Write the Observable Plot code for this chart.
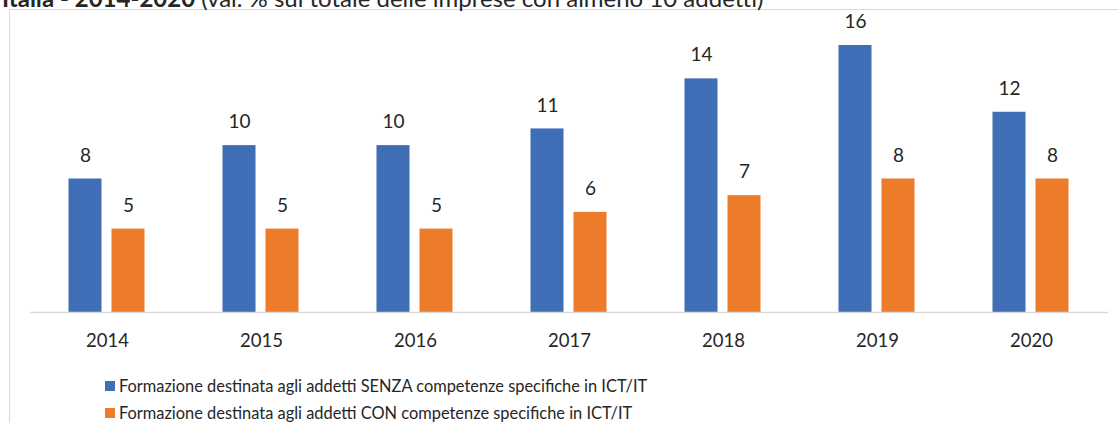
<!DOCTYPE html>
<html>
<head>
<meta charset="utf-8">
<script src="https://cdn.jsdelivr.net/npm/d3@7"></script>
<script src="https://cdn.jsdelivr.net/npm/@observablehq/plot@0.6"></script>
<style>
  html, body { margin: 0; padding: 0; background: #fff; }
  #wrap { position: relative; width: 1118px; height: 423px; overflow: hidden; font-family: Lato, "Open Sans", sans-serif; color: #262626; }
  #title { position: absolute; left: 2px; top: -16px; font-size: 24px; line-height: 28px; white-space: nowrap; color: #262626; }
  #frame { position: absolute; left: 9px; top: 9px; width: 2000px; height: 1000px; border-top: 1px solid #d9d9d9; border-left: 1px solid #d9d9d9; }
  #chart { position: absolute; left: 0; top: 0; }
  #legend { position: absolute; left: 105px; top: 372px; font-size: 16.4px; line-height: 27px; }
  .item { display: flex; align-items: center; white-space: nowrap; }
  .sw { width: 10px; height: 10px; margin-right: 4px; display: inline-block; }
</style>
</head>
<body>
<div id="wrap">
  <div id="frame"></div>
  <div id="title"><b>Italia - 2014-2020</b> (val. % sul totale delle imprese con almeno 10 addetti)</div>
  <div id="chart"></div>
  <div id="legend"></div>
</div>
<script>
const years = ["2014", "2015", "2016", "2017", "2018", "2019", "2020"];
const seriesNames = [
  "Formazione destinata agli addetti SENZA competenze specifiche in ICT/IT",
  "Formazione destinata agli addetti CON competenze specifiche in ICT/IT"
];
const senza = [8, 10, 10, 11, 14, 16, 12];
const con = [5, 5, 5, 6, 7, 8, 8];
const colors = ["#3F6DB6", "#EC7B2A"];

const data = [];
years.forEach((y, i) => {
  data.push({ year: y, series: seriesNames[0], value: senza[i] });
  data.push({ year: y, series: seriesNames[1], value: con[i] });
});

const chart = Plot.plot({
  width: 1118,
  height: 360,
  marginLeft: 26.5,
  marginRight: 7,
  marginTop: 45,
  marginBottom: 48,
  style: { fontFamily: "Lato, sans-serif", fontSize: "18.5px", color: "#262626", background: "transparent" },
  fx: { domain: years, padding: 0, axis: "bottom", tickSize: 0, tickPadding: 21.5, label: null },
  x: { domain: seriesNames, paddingInner: 0.227, paddingOuter: 0.873, axis: null },
  y: { domain: [0, 16], axis: null },
  color: { domain: seriesNames, range: colors },
  marks: [
    Plot.barY(data, { fx: "year", x: "series", y: "value", fill: "series" }),
    Plot.text(data, { fx: "year", x: "series", y: "value", text: d => String(d.value), dy: -23.5, fontSize: 19, fill: "#262626" }),
    Plot.ruleY([0], { stroke: "#d9d9d9", strokeWidth: 1.5 })
  ]
});
document.getElementById("chart").appendChild(chart);

const legend = document.getElementById("legend");
seriesNames.forEach((s, i) => {
  const row = document.createElement("div");
  row.className = "item";
  const sw = document.createElement("span");
  sw.className = "sw";
  sw.style.background = colors[i];
  const t = document.createElement("span");
  t.textContent = s;
  row.appendChild(sw);
  row.appendChild(t);
  legend.appendChild(row);
});
</script>
</body>
</html>
